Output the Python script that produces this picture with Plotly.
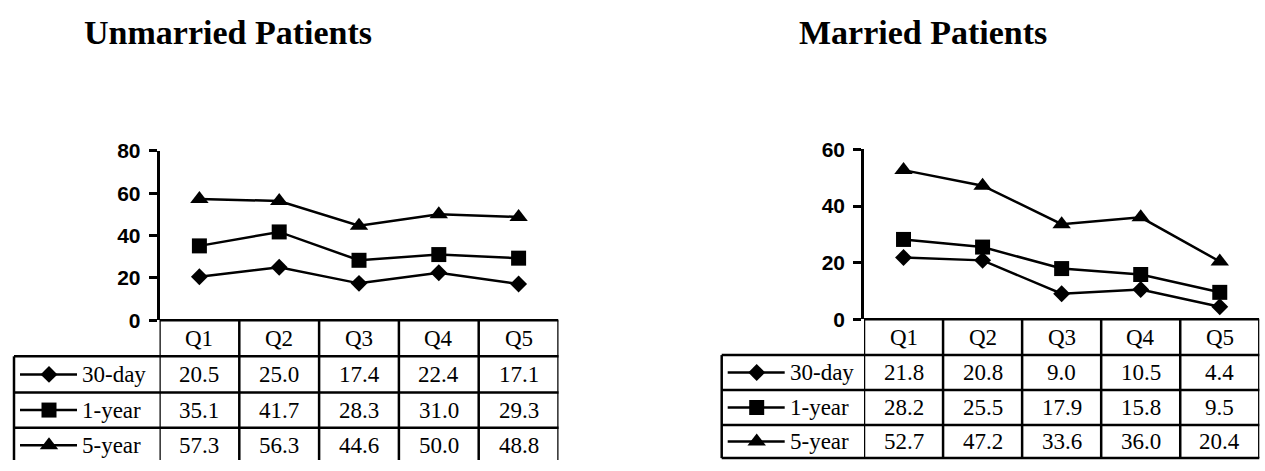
import plotly.graph_objects as go

# ---- data -------------------------------------------------------------
quintiles = ["Q1", "Q2", "Q3", "Q4", "Q5"]
series_names = ["30-day", "1-year", "5-year"]

unmarried_30day = [20.5, 25.0, 17.4, 22.4, 17.1]
unmarried_1year = [35.1, 41.7, 28.3, 31.0, 29.3]
unmarried_5year = [57.3, 56.3, 44.6, 50.0, 48.8]

married_30day = [21.8, 20.8, 9.0, 10.5, 4.4]
married_1year = [28.2, 25.5, 17.9, 15.8, 9.5]
married_5year = [52.7, 47.2, 33.6, 36.0, 20.4]

unmarried_ticks = [0, 20, 40, 60, 80]
married_ticks = [0, 20, 40, 60]

panel_titles = ["Unmarried Patients", "Married Patients"]

# ---- layout constants (pixels) ---------------------------------------
W, H = 1265, 471
SYMBOLS = ["diamond", "square", "triangle-up"]
MARKER_SIZES = [13, 15, 16]
SERIF = "Liberation Serif, Times New Roman, serif"
SANS = "Liberation Sans, Arial, sans-serif"
TABLE_FONT = 23
LW = 2.5

panels = [
    dict(
        title=panel_titles[0], title_x=228, title_y=22,
        series=[unmarried_30day, unmarried_1year, unmarried_5year],
        ticks=unmarried_ticks,
        left=159.5, right=558.5, zero_px=324, top_px=146,
        legend_left=14, rows=[324, 362, 400, 437, 474],
        xa="x", ya="y",
    ),
    dict(
        title=panel_titles[1], title_x=923, title_y=22,
        series=[married_30day, married_1year, married_5year],
        ticks=married_ticks,
        left=864, right=1259.3, zero_px=323, top_px=144.5,
        legend_left=721.7, rows=[323, 360.7, 397.3, 434.3, 469],
        xa="x2", ya="y2",
    ),
]

fig = go.Figure()
shapes = []
annotations = []
LINE = dict(color="black", width=LW)

for p in panels:
    xa, ya = p["xa"], p["ya"]
    # line chart
    for vals, sym, ms, name in zip(p["series"], SYMBOLS, MARKER_SIZES, series_names):
        fig.add_trace(go.Scatter(
            x=quintiles, y=vals, name=name, mode="lines+markers",
            xaxis=xa, yaxis=ya, cliponaxis=False, showlegend=False,
            line=dict(color="black", width=LW),
            marker=dict(symbol=sym, size=ms, color="black"),
        ))

    rows = p["rows"]
    ncols = len(quintiles)
    # table: top border (x axis) and column separators
    shapes.append(dict(type="line", xref=xa, yref="y3", x0=-0.5, x1=ncols - 0.5,
                       y0=rows[0], y1=rows[0], line=LINE))
    for i in range(ncols + 1):
        shapes.append(dict(type="line", xref=xa, yref="y3", x0=i - 0.5, x1=i - 0.5,
                           y0=rows[0], y1=rows[-1], line=LINE))
    # horizontal row lines spanning legend column and data columns
    for r in rows[1:]:
        shapes.append(dict(type="line", xref="x3", yref="y3", x0=p["legend_left"],
                           x1=p["right"], y0=r, y1=r, line=LINE))
    shapes.append(dict(type="line", xref="x3", yref="y3", x0=p["legend_left"],
                       x1=p["legend_left"], y0=rows[1], y1=rows[-1], line=LINE))

    # header labels
    hc = (rows[0] + rows[1]) / 2
    for q in quintiles:
        annotations.append(dict(xref=xa, yref="y3", x=q, y=hc, text=q, showarrow=False,
                                xanchor="center", yanchor="middle",
                                font=dict(family=SERIF, size=TABLE_FONT, color="black")))
    # data rows
    for k, (vals, sym, ms, name) in enumerate(zip(p["series"], SYMBOLS, MARKER_SIZES, series_names)):
        rc = (rows[k + 1] + rows[k + 2]) / 2
        for q, v in zip(quintiles, vals):
            annotations.append(dict(xref=xa, yref="y3", x=q, y=rc, text=f"{v:.1f}",
                                    showarrow=False, xanchor="center", yanchor="middle",
                                    font=dict(family=SERIF, size=TABLE_FONT, color="black")))
        ll = p["legend_left"]
        fig.add_trace(go.Scatter(
            x=[ll + 6, ll + 63], y=[rc, rc], mode="lines", xaxis="x3", yaxis="y3",
            showlegend=False, hoverinfo="skip", line=dict(color="black", width=LW)))
        fig.add_trace(go.Scatter(
            x=[ll + 35], y=[rc], mode="markers", xaxis="x3", yaxis="y3",
            showlegend=False, hoverinfo="skip",
            marker=dict(symbol=sym, size=ms, color="black")))
        annotations.append(dict(xref="x3", yref="y3", x=ll + 66, y=rc, text=name,
                                showarrow=False, xanchor="left", yanchor="middle",
                                font=dict(family=SERIF, size=TABLE_FONT, color="black")))

    # panel title
    annotations.append(dict(xref="x3", yref="y3", x=p["title_x"], y=p["title_y"],
                            text=f"<b>{p['title']}</b>", showarrow=False,
                            xanchor="center", yanchor="middle",
                            font=dict(family=SERIF, size=34, color="black")))

def xaxis_cfg(p):
    return dict(domain=[p["left"] / W, p["right"] / W], range=[-0.5, len(quintiles) - 0.5],
                type="category", categoryorder="array", categoryarray=quintiles,
                showticklabels=False, ticks="", showgrid=False, zeroline=False,
                showline=False, anchor=p["ya"])

def yaxis_cfg(p):
    return dict(domain=[1 - p["zero_px"] / H, 1 - p["top_px"] / H],
                range=[0, p["ticks"][-1]], tickvals=p["ticks"],
                ticks="outside", ticklen=8, tickwidth=LW, tickcolor="black",
                showline=True, linewidth=LW, linecolor="black",
                showgrid=False, zeroline=False, anchor=p["xa"],
                ticklabelstandoff=4,
                tickfont=dict(family=SANS, size=21, color="black", weight="bold"))

fig.update_layout(
    width=W, height=H,
    margin=dict(l=0, r=0, t=0, b=0),
    paper_bgcolor="white", plot_bgcolor="rgba(0,0,0,0)",
    xaxis=xaxis_cfg(panels[0]), yaxis=yaxis_cfg(panels[0]),
    xaxis2=xaxis_cfg(panels[1]), yaxis2=yaxis_cfg(panels[1]),
    # pixel-space overlay used for the table frame, legend keys and titles
    xaxis3=dict(domain=[0, 1], range=[0, W], visible=False, anchor="y3", fixedrange=True),
    yaxis3=dict(domain=[0, 1], range=[H, 0], visible=False, anchor="x3", fixedrange=True),
    shapes=shapes,
    annotations=annotations,
    showlegend=False,
)

fig.write_html("out.html")
